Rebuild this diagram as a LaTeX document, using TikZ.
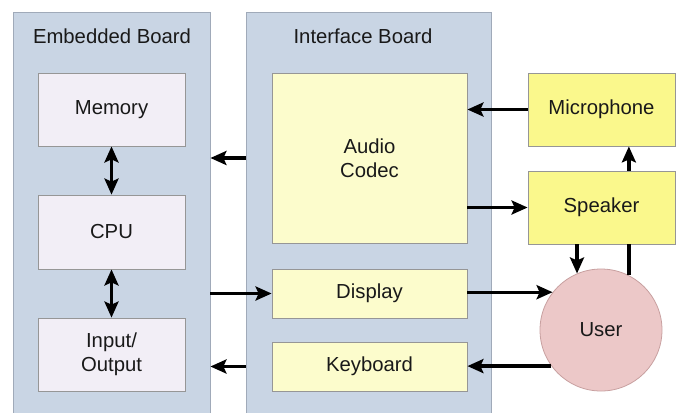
\documentclass[tikz,border=0pt]{standalone}
\usepackage{fontspec}
\setmainfont{Liberation Sans}
\usetikzlibrary{arrows.meta}
\definecolor{panelc}{RGB}{201,213,228}
\definecolor{paneld}{RGB}{160,170,185}
\definecolor{lavc}{RGB}{242,238,246}
\definecolor{lyel}{RGB}{252,252,204}
\definecolor{byel}{RGB}{250,248,140}
\definecolor{boxd}{RGB}{150,150,150}
\definecolor{userc}{RGB}{236,200,200}
\definecolor{userd}{RGB}{200,160,160}
\definecolor{txtc}{RGB}{25,25,25}
\begin{document}
\begin{tikzpicture}[x=1bp,y=-1bp,
  every node/.style={font=\fontsize{20.3bp}{24bp}\selectfont, text=txtc, align=center, inner sep=0pt},
  panel/.style={draw=paneld, line width=0.8bp, fill=panelc, rectangle},
  membox/.style={draw=boxd, line width=0.8bp, fill=lavc, rectangle, minimum width=147bp, minimum height=73bp},
  ifbox/.style={draw=boxd, line width=0.8bp, fill=lyel, rectangle, minimum width=195bp},
  extbox/.style={draw=boxd, line width=0.8bp, fill=byel, rectangle, minimum width=147bp, minimum height=73bp},
  arr/.style={line width=3.4bp, -{Stealth[length=16bp,width=14bp,inset=3bp]}},
  darr/.style={line width=3.4bp, {Stealth[length=16bp,width=14bp,inset=3bp]}-{Stealth[length=16bp,width=14bp,inset=3bp]}},
  plain/.style={line width=3.4bp}
]
\useasboundingbox (0,0) rectangle (677,412);
\fill[white] (0,0) rectangle (677,412);
% panels
\node[panel, minimum width=197bp, minimum height=410bp] (emb) at (111.5,217) {};
\node[panel, minimum width=245bp, minimum height=410bp] (ifb) at (368.5,217) {};
\node (embt) at (112,36) {Embedded Board};
\node (ifbt) at (363,36) {Interface Board};
% embedded boxes
\node[membox] (mem) at (111.5,109.5) {Memory};
\node[membox, minimum height=74bp] (cpu) at (111.5,232) {CPU};
\node[membox] (io) at (111.5,354.5) {Input/\\Output};
% interface boxes
\node[ifbox, minimum height=170bp] (codec) at (369.5,158) {Audio\\Codec};
\node[ifbox, minimum height=49bp] (disp) at (369.5,293.5) {Display};
\node[ifbox, minimum height=49bp] (kbd) at (369.5,366.5) {Keyboard};
% external
\node[extbox] (mic) at (601.5,109.5) {Microphone};
\node[extbox] (spk) at (601.5,207.5) {Speaker};
\node[circle, draw=userd, line width=0.8bp, fill=userc, minimum size=122bp] (user) at (601,330) {User};
% arrows
\draw[darr] (mem.south) -- (cpu.north);
\draw[darr] (cpu.south) -- (io.north);
\draw[arr] (mic.west) -- (mic.west -| codec.east);
\draw[arr] (codec.east |- spk.west) -- (spk.west);
\draw[arr] (codec.center -| ifb.west) -- (codec.center -| emb.east);
\draw[arr] (disp.west -| emb.east) -- (disp.west);
\draw[arr] (kbd.west -| ifb.west) -- (kbd.west -| emb.east);
\draw[arr] (disp.east |- user.142.7) -- (user.142.7);
\draw[arr] (user.216.2) -- (user.216.2 -| kbd.east);
\draw[arr] (user.113.2 |- spk.south) -- (user.113.2);
\draw[plain] (user.63.7) -- (user.63.7 |- spk.south);
\draw[arr] (user.63.7 |- spk.north) -- (user.63.7 |- mic.south);
\end{tikzpicture}
\end{document}
